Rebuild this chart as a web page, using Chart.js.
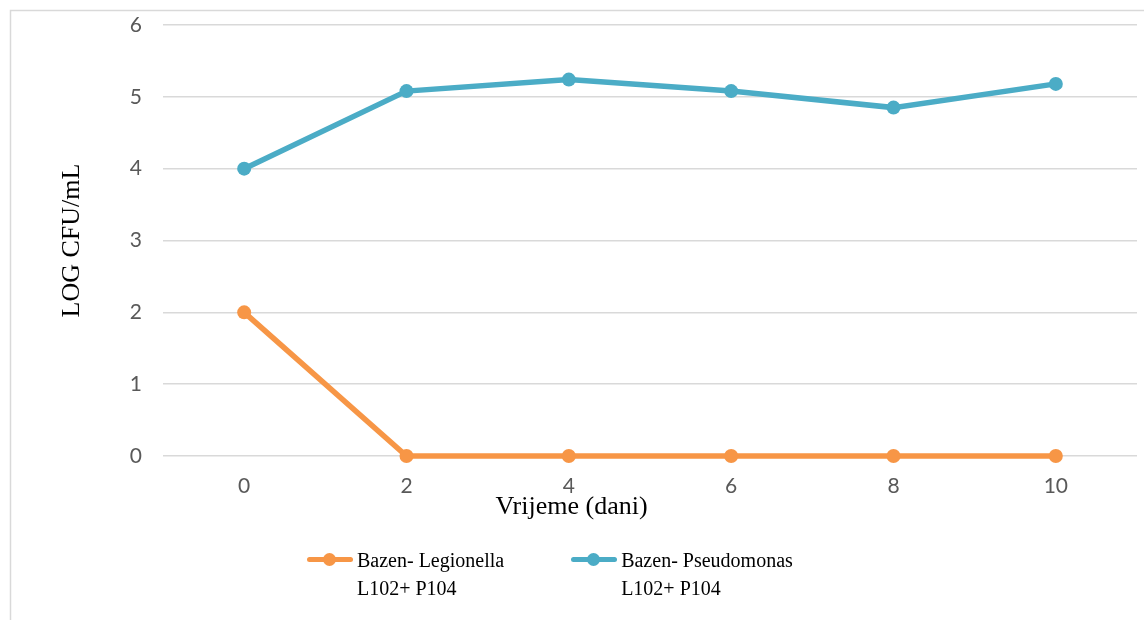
<!DOCTYPE html>
<html>
<head>
<meta charset="utf-8">
<script src="https://cdn.jsdelivr.net/npm/chart.js@4"></script>
<style>
  html, body { margin: 0; padding: 0; background: #fff; }
  #wrap { position: relative; width: 1144px; height: 620px; }
  #legend {
    position: absolute;
    left: 307px;
    top: 546px;
    display: flex;
    gap: 67px;
    font-family: "Liberation Serif", "Times New Roman", serif;
    font-size: 20px;
    line-height: 28px;
    color: #000;
  }
  .item { display: flex; align-items: flex-start; }
  .mk {
    position: relative;
    flex: none;
    width: 46px;
    height: 5px;
    margin-top: 11px;
    margin-right: 4px;
    border-radius: 3px;
  }
  .mk i {
    position: absolute;
    left: 16px;
    top: -4px;
    width: 13px;
    height: 13px;
    border-radius: 50%;
    background: inherit;
  }
</style>
</head>
<body>
<div id="wrap">
  <canvas id="line-chart"></canvas>
  <div id="legend"></div>
</div>
<script>
// data
const days = ["0", "2", "4", "6", "8", "10"];
const legionella = [2, 0, 0, 0, 0, 0];
const pseudomonas = [4.0, 5.08, 5.24, 5.08, 4.85, 5.18];
const legionellaLabel = ["Bazen- Legionella", "L102+ P104"];
const pseudomonasLabel = ["Bazen- Pseudomonas", "L102+ P104"];
const yTicks = [0, 1, 2, 3, 4, 5, 6];

const orange = "#f79646";
const blue = "#4bacc6";
const serif = "'Liberation Serif', 'Times New Roman', serif";
const sans = "Lato, 'Open Sans', sans-serif";

// white page + the thin grey chart frame
const frame = {
  id: "frame",
  beforeDraw(chart) {
    const ctx = chart.ctx;
    ctx.save();
    ctx.fillStyle = "#fff";
    ctx.fillRect(0, 0, chart.width, chart.height);
    ctx.strokeStyle = "#d9d9d9";
    ctx.lineWidth = 1.5;
    ctx.strokeRect(10.5, 10.5, chart.width + 20, chart.height + 20);
    ctx.restore();
  },
};

// html legend, so the two-line labels wrap like in Excel
const htmlLegend = {
  id: "htmlLegend",
  afterUpdate(chart) {
    const box = document.getElementById("legend");
    box.innerHTML = "";
    const items = Chart.defaults.plugins.legend.labels.generateLabels(chart);
    items.forEach((item) => {
      const row = document.createElement("div");
      row.className = "item";
      const mk = document.createElement("span");
      mk.className = "mk";
      mk.style.background = item.strokeStyle;
      mk.appendChild(document.createElement("i"));
      const txt = document.createElement("div");
      [].concat(item.text).forEach((line) => {
        const l = document.createElement("div");
        l.textContent = line;
        txt.appendChild(l);
      });
      row.appendChild(mk);
      row.appendChild(txt);
      box.appendChild(row);
    });
  },
};

const priceChart = new Chart(document.getElementById("line-chart"), {
  type: "line",
  data: {
    labels: days,
    datasets: [
      {
        label: legionellaLabel,
        data: legionella,
        borderColor: orange,
        backgroundColor: orange,
        pointBackgroundColor: orange,
        borderWidth: 5.5,
        pointRadius: 7,
        pointBorderWidth: 0,
        clip: false,
      },
      {
        label: pseudomonasLabel,
        data: pseudomonas,
        borderColor: blue,
        backgroundColor: blue,
        pointBackgroundColor: blue,
        borderWidth: 5.5,
        pointRadius: 7,
        pointBorderWidth: 0,
        clip: false,
      },
    ],
  },
  options: {
    responsive: true,
    maintainAspectRatio: false,
    animation: false,
    layout: { padding: { top: 25, left: 0, right: 1, bottom: 97.4 } },
    plugins: {
      tooltip: { enabled: false },
      legend: { display: false },
      // x axis title: Excel centres it on the whole chart, not the plot
      title: {
        display: true,
        position: "bottom",
        text: "Vrijeme (dani)",
        color: "#000",
        font: { family: serif, size: 26, weight: "normal" },
        padding: { top: -9.6, bottom: 0 },
      },
    },
    scales: {
      x: {
        offset: true,
        grid: { display: false },
        border: { display: false },
        ticks: { color: "#595959", font: { family: sans, size: 21 }, padding: 9.5 },
        afterFit: (scale) => {
          scale.height = 45;
        },
      },
      y: {
        min: 0,
        max: 6,
        afterBuildTicks: (scale) => {
          scale.ticks = yTicks.map((v) => ({ value: v }));
        },
        grid: { color: "#d9d9d9", lineWidth: 1.5, drawTicks: false },
        border: { display: false },
        ticks: { color: "#595959", font: { family: sans, size: 21 }, padding: 21 },
        title: {
          display: true,
          text: "LOG CFU/mL",
          color: "#000",
          font: { family: serif, size: 26 },
          padding: { top: 56.4, bottom: 0 },
        },
        afterFit: (scale) => {
          scale.width = 163;
          // tick padding would otherwise push the plot top down
          scale.paddingTop = 0;
          scale.paddingBottom = 0;
        },
      },
    },
  },
  plugins: [frame, htmlLegend],
});
</script>
</body>
</html>
